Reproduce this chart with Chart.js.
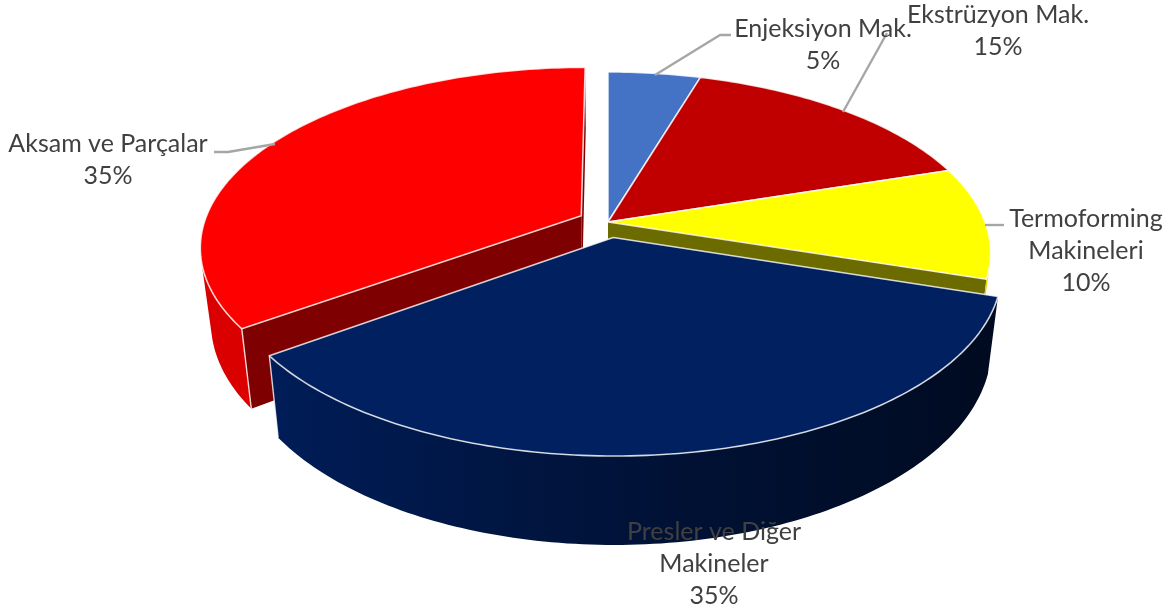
<!DOCTYPE html>
<html><head><meta charset="utf-8">
<style>html,body{margin:0;padding:0;background:#fff}#w{width:1174px;height:614px}</style>
<script src="https://cdn.jsdelivr.net/npm/chart.js@4"></script>
</head><body><div id="w"><canvas id="c" width="1174" height="614"></canvas></div>
<script>
const categories = ["Enjeksiyon Mak.","Ekstrüzyon Mak.","Termoforming Makineleri","Presler ve Diğer Makineler","Aksam ve Parçalar"];
const shares = [4.6,15.4,10,35,35];
const sliceColors = ["#4472c4","#c00000","#ffff00","#002060","#ff0000"];
const faceColors = ["#2a4a80","#700000","#6b6b00","#001030","#7f0000"];
const explodeOffsets = [0,0,0,8.8,8];
const labelLines = [["Enjeksiyon Mak."],["Ekstrüzyon Mak."],["Termoforming","Makineleri"],["Presler ve Diğer","Makineler"],["Aksam ve Parçalar"]];

// camera model (unit-radius pie plane to screen)
const A=377, B=175.5, P=.17, DROP=72.5, SHRINK=.974;
const labelBox=[{x:823,y:29},{x:998,y:15},{x:1086,y:219},{x:714,y:532},{x:108,y:144}];
const leaders=[[[655,75],[720,35],[731,35]],[[843,112],[887,33]],[[985,225],[1004,225]],null,[[275,144],[228,152],[214,152]]];

function shade(hex,f){const n=parseInt(hex.slice(1),16);
  return `rgb(${Math.round((n>>16&255)*f)},${Math.round((n>>8&255)*f)},${Math.round((n&255)*f)})`;}
function area(pts){let s=0;pts.forEach((p,i)=>{const q=pts[(i+1)%pts.length];s+=p[0]*q[1]-q[0]*p[1];});return s/2;}

const pie3d={id:'pie3d',
  beforeDatasetsDraw(chart){
    const ctx=chart.ctx, meta=chart.getDatasetMeta(0), order=[0,1,2,4,3];
    for(const i of order){
      const el=meta.data[i], cx=el.x, cy=el.y;
      const a0=el.startAngle+Math.PI/2, a1=el.endAngle+Math.PI/2, mid=(a0+a1)/2;
      const E=el.options.offset/100, ex=E*Math.sin(mid), ey=-E*Math.cos(mid);
      const top=(X,Y)=>{const S=1/(1-P*Y);return [cx+A*X*S,cy+B*Y*S];};
      const bot=(X,Y)=>{const S=1/(1-P*Y);return [cx+A*X*S*SHRINK,cy+B*Y*S+DROP*S];};
      const rim=t=>[ex+Math.sin(t),ey-Math.cos(t)];
      const apex=[ex,ey], col=sliceColors[i];
      const poly=(pts,fill)=>{ctx.beginPath();pts.forEach((p,k)=>k?ctx.lineTo(...p):ctx.moveTo(...p));ctx.closePath();ctx.fillStyle=fill;ctx.fill();};
      // radial faces: keep only those turned to the viewer
      [[a0,-1],[a1,1]].forEach(([t,sgn])=>{
        const r=rim(t), q=[top(...apex),top(...r),bot(...r),bot(...apex)];
        if(area(q)*sgn>0) poly(q,faceColors[i]);
      });
      // rim wall: visible run only
      const n=Math.ceil((a1-a0)*180/Math.PI), upper=[], lower=[];
      for(let k=0;k<n;k++){
        const t0=a0+(a1-a0)*k/n,t1=a0+(a1-a0)*(k+1)/n, r0=rim(t0), r1=rim(t1);
        if(area([top(...r0),top(...r1),bot(...r1),bot(...r0)])<0){
          if(!upper.length){upper.push(top(...r0));lower.push(bot(...r0));}
          upper.push(top(...r1));lower.push(bot(...r1));
        }
      }
      if(upper.length){
        const outline=upper.concat(lower.slice().reverse());
        let fill=shade(col,.86);
        if(i===3){
          const xs=outline.map(p=>p[0]), g=ctx.createLinearGradient(Math.min(...xs),0,Math.max(...xs),0);
          g.addColorStop(0,shade(col,.92));g.addColorStop(.45,shade(col,.6));g.addColorStop(1,shade(col,.34));
          fill=g;
        }
        poly(outline,fill);
        if(i===4||i===3){
          const e=i===4?upper[0]:upper[upper.length-1], f=i===4?lower[0]:lower[lower.length-1];
          ctx.strokeStyle='rgba(255,255,255,.8)';ctx.lineWidth=1.4;
          ctx.beginPath();ctx.moveTo(...e);ctx.lineTo(...f);ctx.stroke();
        }
      }
      // top face
      ctx.beginPath();ctx.moveTo(...top(...apex));
      for(let k=0;k<=n;k++){ctx.lineTo(...top(...rim(a0+(a1-a0)*k/n)));}
      ctx.closePath();ctx.fillStyle=col;ctx.fill();
      ctx.strokeStyle='rgba(255,255,255,.8)';ctx.lineWidth=1.6;ctx.lineJoin='round';ctx.stroke();
    }
    return false;
  },
  afterDraw(chart){
    const ctx=chart.ctx, total=shares.reduce((a,b)=>a+b,0);
    ctx.save();
    ctx.strokeStyle='#a6a6a6';ctx.lineWidth=2.4;
    for(const l of leaders){if(!l)continue;ctx.beginPath();ctx.moveTo(...l[0]);for(const p of l.slice(1))ctx.lineTo(...p);ctx.stroke();}
    ctx.font='25px Lato';ctx.textAlign='center';ctx.textBaseline='middle';
    categories.forEach((c,i)=>{
      const lines=[...labelLines[i],Math.round(shares[i]/total*100)+'%'];
      ctx.fillStyle='#404040';
      lines.forEach((s,j)=>ctx.fillText(s,labelBox[i].x,labelBox[i].y+j*32));
    });
    ctx.restore();
  }};

new Chart(document.getElementById('c'),{
  type:'pie',
  data:{labels:categories,datasets:[{data:shares,backgroundColor:sliceColors,offset:explodeOffsets,borderWidth:0}]},
  options:{responsive:false,animation:false,
    layout:{padding:{left:42,bottom:170}},
    plugins:{legend:{display:false},tooltip:{enabled:false}}},
  plugins:[pie3d]
});
</script></body></html>
